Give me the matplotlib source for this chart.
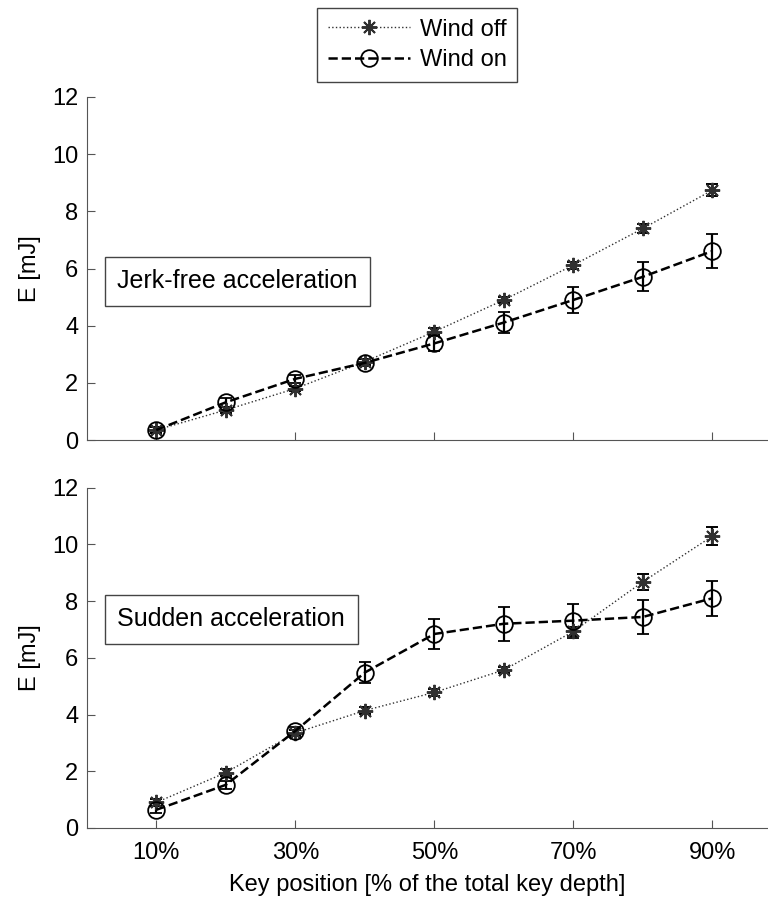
import matplotlib.pyplot as plt
import matplotlib
matplotlib.rcParams['font.family'] = ['Liberation Sans', 'DejaVu Sans']
from matplotlib.lines import Line2D

key_pos = [10, 20, 30, 40, 50, 60, 70, 80, 90]
xtick_labels = ['10%', '30%', '50%', '70%', '90%']

# jerk-free acceleration
jf_off = [0.35, 1.05, 1.8, 2.74, 3.79, 4.9, 6.12, 7.4, 8.74]
jf_off_err = [0.1, 0.1, 0.1, 0.1, 0.12, 0.12, 0.12, 0.15, 0.2]
jf_on = [0.35, 1.32, 2.14, 2.7, 3.38, 4.11, 4.9, 5.71, 6.61]
jf_on_err = [0.12, 0.15, 0.15, 0.12, 0.26, 0.38, 0.44, 0.51, 0.6]

# sudden acceleration
sa_off = [0.9, 1.95, 3.35, 4.14, 4.78, 5.57, 6.93, 8.68, 10.29]
sa_off_err = [0.12, 0.12, 0.12, 0.12, 0.12, 0.12, 0.15, 0.29, 0.32]
sa_on = [0.64, 1.52, 3.42, 5.48, 6.84, 7.2, 7.31, 7.44, 8.1]
sa_on_err = [0.12, 0.15, 0.15, 0.37, 0.52, 0.6, 0.6, 0.61, 0.61]

panels = [
    ('Jerk-free acceleration', 5.55, jf_off, jf_off_err, jf_on, jf_on_err),
    ('Sudden acceleration', 7.35, sa_off, sa_off_err, sa_on, sa_on_err),
]

FS = 17
f = plt.figure(figsize=(7.68, 8.98), dpi=100)
ax_top = f.add_axes([0.113, 0.510, 0.887, 0.382])
ax_bot = f.add_axes([0.113, 0.078, 0.887, 0.379])

off_style = dict(color='#303030', ls=':', lw=1.0, marker=(8, 2, 0), ms=11, mew=1.4)
on_style = dict(color='k', ls='--', lw=1.8, marker='o', ms=12, mfc='none', mew=1.3)

for ax, (title, ty, off, off_err, on, on_err) in zip([ax_top, ax_bot], panels):
    ax.errorbar(key_pos, off, yerr=off_err, capsize=4, elinewidth=1.6,
                capthick=1.6, ecolor='k', **off_style)
    ax.errorbar(key_pos, on, yerr=on_err, capsize=4, elinewidth=1.6,
                capthick=1.6, ecolor='k', **on_style)
    ax.set_xlim(0, 98)
    ax.set_ylim(0, 12)
    ax.set_yticks([0, 2, 4, 6, 8, 10, 12])
    ax.set_xticks([10, 30, 50, 70, 90])
    ax.set_ylabel('E [mJ]', fontsize=FS, labelpad=8)
    ax.tick_params(labelsize=FS, direction='in', length=6, color='#555555', pad=6)
    ax.tick_params(axis='x', pad=10)
    ax.spines['right'].set_visible(False)
    ax.spines['top'].set_visible(False)
    for s in ['left', 'bottom']:
        ax.spines[s].set_color('#555555')
    ax.text(4.4, ty, title, fontsize=FS + 1, va='center', ha='left',
            bbox=dict(boxstyle='square,pad=0.5', fc='white', ec='#444444', lw=1.0))

ax_top.set_xticklabels([])
ax_bot.set_xticklabels(xtick_labels)
ax_bot.set_xlabel('Key position [% of the total key depth]', fontsize=FS, labelpad=7)

handles = [Line2D([], [], **off_style), Line2D([], [], **on_style)]
leg = f.legend(handles, ['Wind off', 'Wind on'], loc='upper center',
               bbox_to_anchor=(0.543, 0.991), borderaxespad=0, fontsize=FS, fancybox=False,
               edgecolor='#444444', framealpha=1, handlelength=3.5, handletextpad=0.4,
               borderpad=0.45, labelspacing=0.35)
leg.get_frame().set_linewidth(1.0)

f.savefig('out.png', dpi=100)
